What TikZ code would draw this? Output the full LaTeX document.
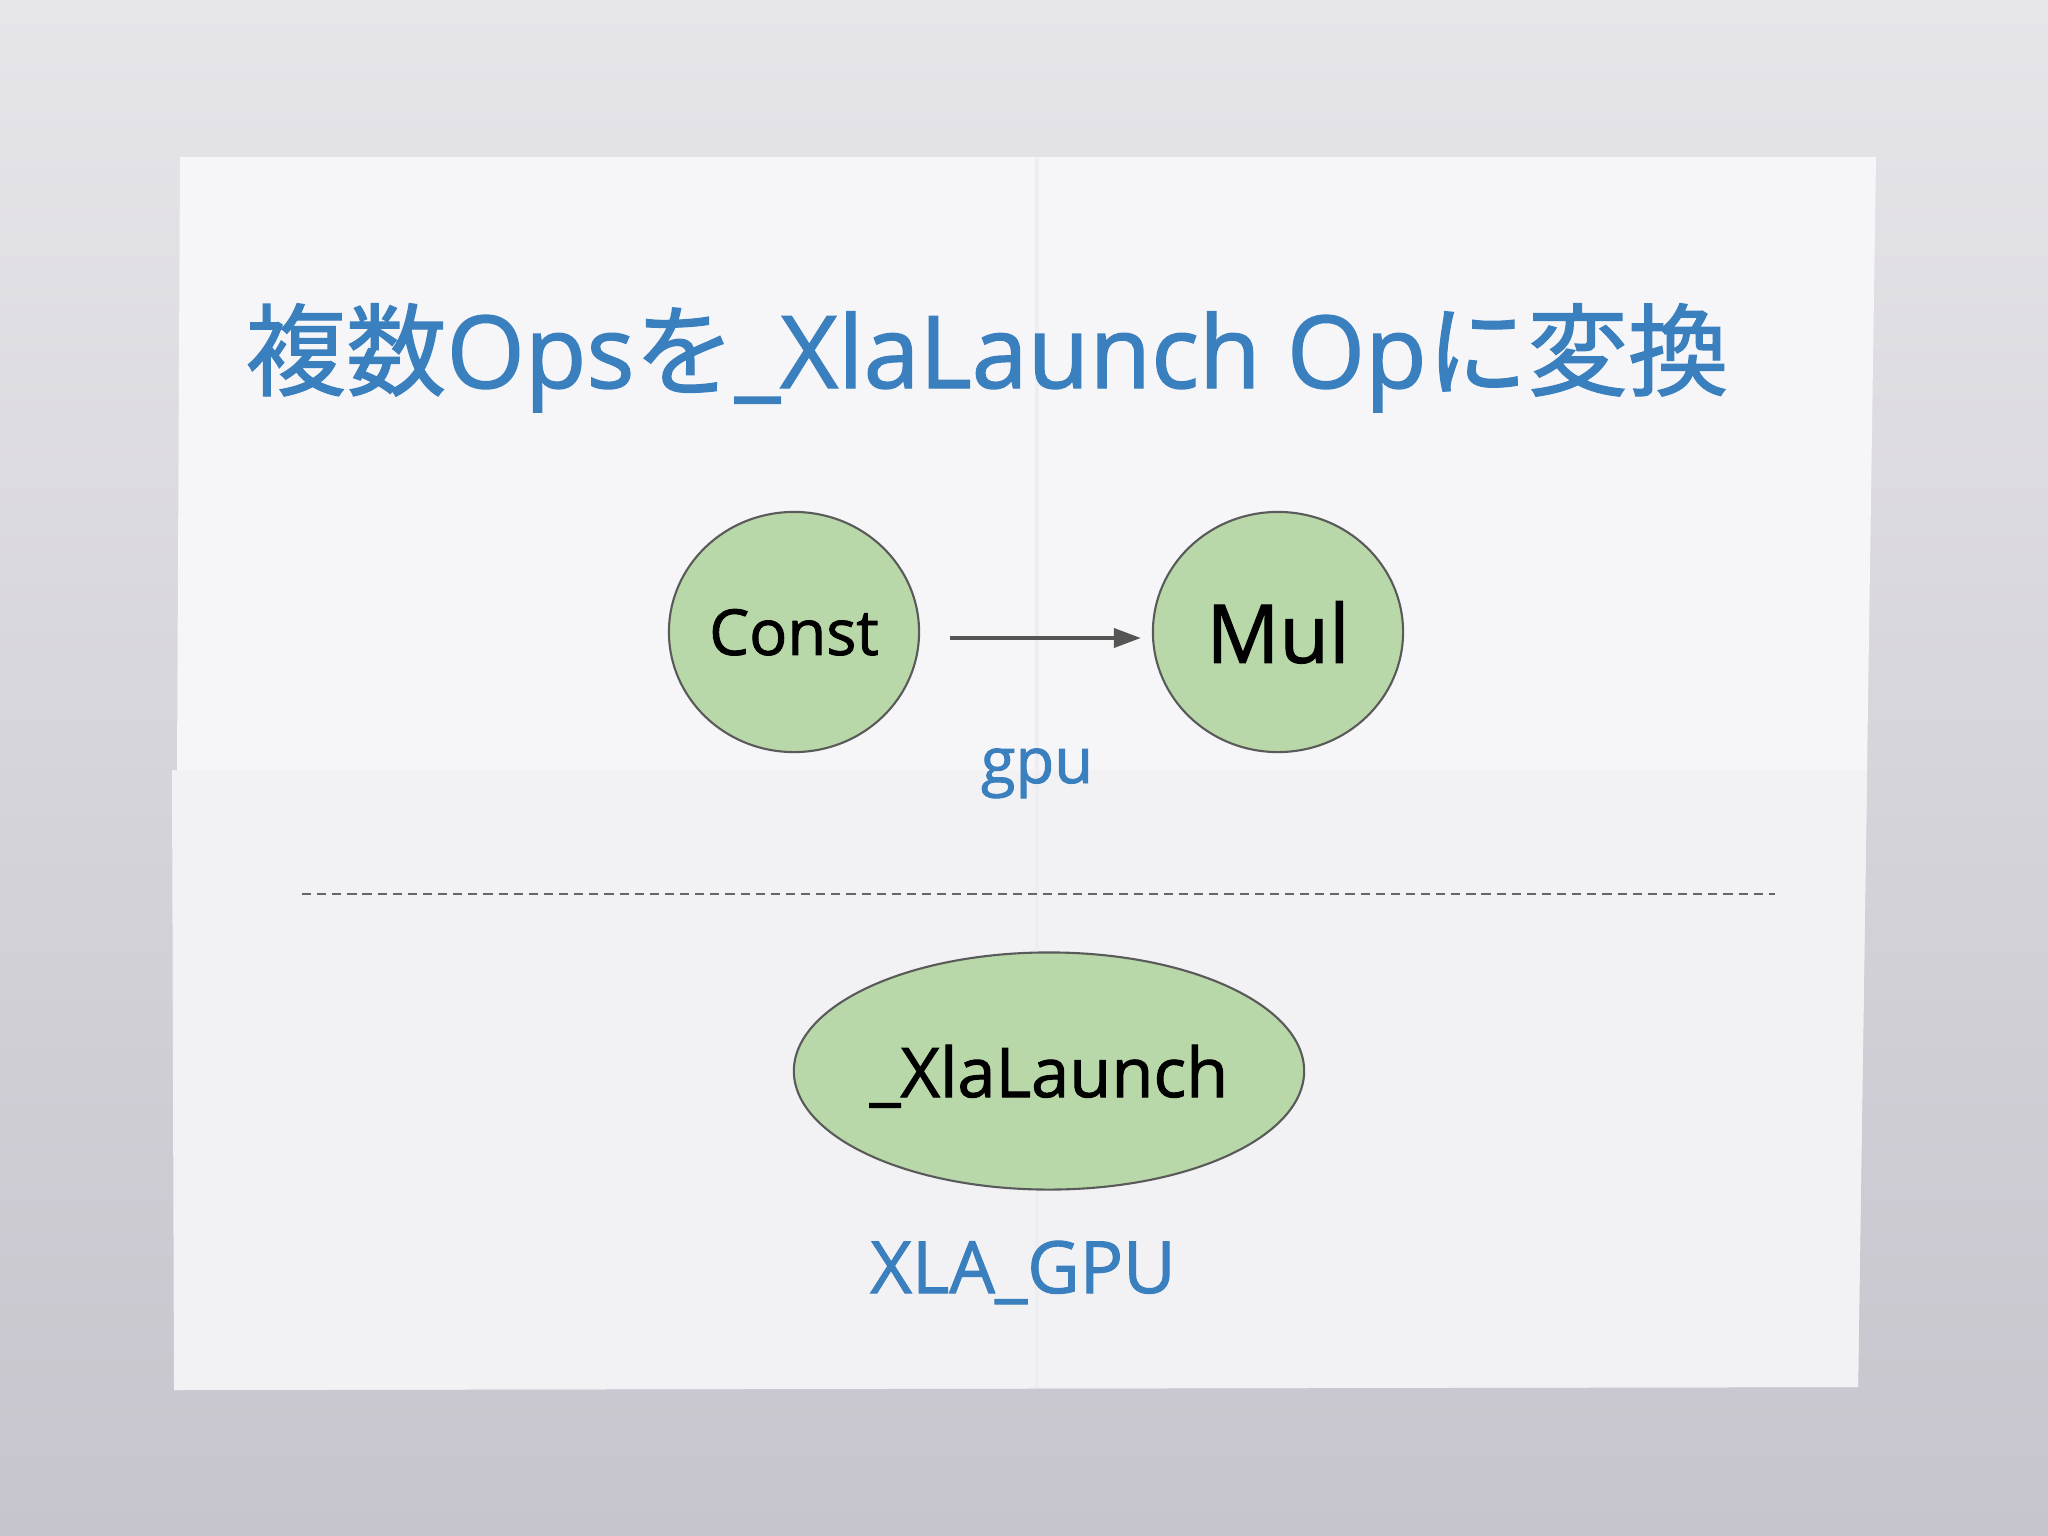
\documentclass[tikz,border=0pt]{standalone}
\usepackage{fontspec}
\setmainfont{Open Sans}[FakeBold=1.4]
\newfontfamily\cjk{Noto Sans CJK JP}[FakeBold=1.2]
\usetikzlibrary{arrows.meta}
\usetikzlibrary{shapes.geometric}
\definecolor{deskgrey}{HTML}{E6E5EA}
\definecolor{deskdark}{HTML}{C6C4CC}
\definecolor{paper}{HTML}{F6F5F8}
\definecolor{paperfold}{HTML}{F2F1F4}
\definecolor{foldline}{HTML}{EEEDF1}
\definecolor{titleblue}{HTML}{3A7FBE}
\definecolor{opgreen}{HTML}{B9D8A9}
\definecolor{rimgrey}{HTML}{5A5A5A}
\definecolor{arrowgrey}{HTML}{555555}

\begin{document}
\begin{tikzpicture}[
    x=0.01cm, y=-0.01cm,
    opnode/.style={ellipse, draw=rimgrey, fill=opgreen, line width=0.6pt,
      inner sep=0pt, text depth=0pt, text=black},
    devlabel/.style={text=titleblue, inner sep=0pt, anchor=base},
    arrow/.style={-{Triangle[length=0.27cm, width=0.19cm]},
      line width=1.1pt, draw=arrowgrey},
  ]
    % desk and folded sheet
    \fill[top color=deskgrey, bottom color=deskdark] (0,0) rectangle (2048,1536);
    \fill[paper] (180,157) -- (1876,157) -- (1858,1387) -- (174,1390) -- cycle;
    \fill[paperfold] (172,770) -- (1867,770) -- (1858,1387) -- (174,1390) -- cycle;
    \draw[foldline, line width=1pt] (1037,158) -- (1037,1388);

    % title
    \node[devlabel, font=\fontsize{28.6}{34}\selectfont] (title) at (987,388)
      {{\cjk 複数}Ops{\cjk を}\_XlaLaunch Op{\cjk に変換}};

    % graph before
    \node[opnode, minimum width=2.5cm, minimum height=2.4cm,
      font=\fontsize{18}{22}\selectfont] (const) at (794,632) {Const};
    \node[opnode, minimum width=2.5cm, minimum height=2.4cm,
      font=\fontsize{23}{27}\selectfont] (mul) at (1278,632) {Mul};
    \draw[arrow, shorten <=0.3cm, shorten >=0.11cm]
      ([yshift=-0.06cm]const.east) -- ([yshift=-0.06cm]mul.west);
    \node[devlabel, font=\fontsize{18}{21}\selectfont] (gpu) at (1037,783) {gpu};

    % separator
    \coordinate (sepl) at (302,894);
    \coordinate (sepr) at (1775,894);
    \draw[arrowgrey!90, line width=0.6pt, dash pattern=on 2.6pt off 1.7pt] (sepl) -- (sepr);

    % graph after
    \node[opnode, minimum width=5.1cm, minimum height=2.37cm,
      font=\fontsize{19.5}{23}\selectfont] (launch) at (1049,1071) {\_XlaLaunch};
    \node[devlabel, font=\fontsize{20.5}{24}\selectfont] (xlagpu) at (1023,1293) {XLA\_GPU};
  \end{tikzpicture}
\end{document}
